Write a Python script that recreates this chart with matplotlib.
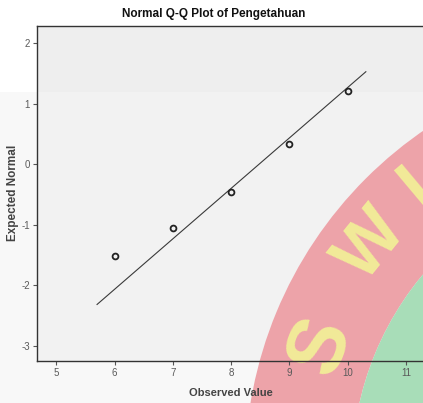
import matplotlib
matplotlib.use("Agg")
import matplotlib.pyplot as plt
from matplotlib.patches import Wedge, Rectangle
import numpy as np

# data
observed = [6, 7, 8, 9, 10]
expected = [-1.52, -1.06, -0.46, 0.33, 1.21]
fit_mean = 8.48
fit_sd = 1.2
fit_range = [5.70, 10.31]
x_ticks = [5, 6, 7, 8, 9, 10, 11]
y_ticks = [-3, -2, -1, 0, 1, 2]

plt.rcParams['font.family'] = ['Liberation Sans', 'DejaVu Sans']
plt.rcParams['axes.unicode_minus'] = False

W, H = 423, 403
fig = plt.figure(figsize=(W / 100, H / 100), dpi=100)
fig.patch.set_facecolor('white')

# background + watermark layer (pixel coordinates), drawn under the plot
bg = fig.add_axes([0, 0, 1, 1], zorder=0)
bg.set_xlim(0, W)
bg.set_ylim(H, 0)
bg.axis('off')
bg.add_patch(Rectangle((0, 92), W, H - 92, color='#f8f8f8', lw=0))
bg.add_patch(Rectangle((37, 26), W - 37, 66, color='#eeeeee', lw=0))
bg.add_patch(Rectangle((37, 92), W - 37, 361 - 92, color='#f2f2f2', lw=0))
cx, cy = 657, 470
bg.add_patch(Wedge((cx, cy), 412, 0, 360, width=107, color='#eda3a9', lw=0))
bg.add_patch(Wedge((cx, cy), 305, 0, 360, color='#a8ddb8', lw=0))
for ch, px, py, rot, fs in [('S', 322, 346, 69, 58), ('W', 372, 246, 51, 52),
                            ('I', 417, 188, 40, 52)]:
    bg.text(px, py, ch, ha='center', va='center', rotation=rot, fontsize=fs,
            fontweight='bold', color='#f2ea98', clip_on=True)

ax = fig.add_axes([37 / W, 42 / H, (W - 37) / W, 335 / H], zorder=1)
ax.patch.set_visible(False)
ax.set_xlim(4.67, 11.29)
ax.set_ylim(-3.25, 2.28)

line_x = np.array(fit_range)
line_y = (line_x - fit_mean) / fit_sd
ax.plot(line_x, line_y, color='#3a3a3a', lw=0.8)
ax.plot(observed, expected, 'o', mfc='none', mec='#222222', mew=1.3, ms=4.2)

ax.set_xticks(x_ticks)
ax.set_yticks(y_ticks)
ax.tick_params(length=3, width=0.8, color='#555555', labelsize=7,
               labelcolor='#5a5a5a', pad=2)
for s in ['left', 'top', 'bottom']:
    ax.spines[s].set_color('#333333')
    ax.spines[s].set_linewidth(1.0)
ax.spines['right'].set_visible(False)

fig.text(231 / W, 1 - 393 / H, 'Observed Value', ha='center', va='center',
         fontsize=8, fontweight='bold', color='#444444', zorder=2)
fig.text(13 / W, 1 - 193 / H, 'Expected Normal', ha='center', va='center', rotation=90,
         fontsize=8.5, fontweight='bold', color='#444444', zorder=2)
fig.text(214 / W, 1 - 14 / H, 'Normal Q-Q Plot of Pengetahuan', ha='center', va='center',
         fontsize=8.5, fontweight='bold', color='#111111', zorder=2)

fig.savefig('out.png', dpi=100)
